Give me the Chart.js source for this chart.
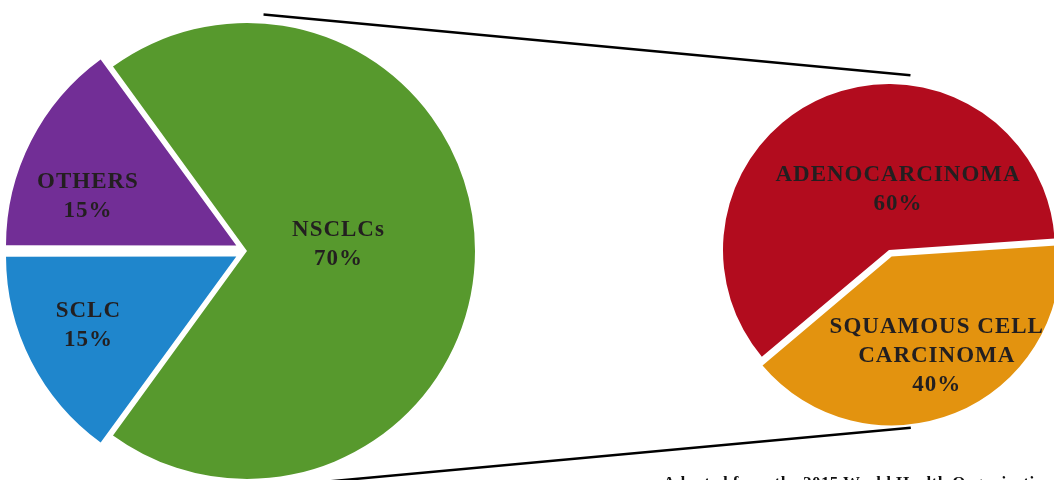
<!DOCTYPE html>
<html>
<head>
<meta charset="utf-8">
<script src="https://cdn.jsdelivr.net/npm/chart.js@4"></script>
<style>
  html, body { margin: 0; padding: 0; background: #fff; overflow: hidden; }
  #wrap { position: relative; width: 1054px; height: 480px; overflow: hidden; }
  #lines { position: absolute; left: 0; top: 0; }
  #typesChart { position: absolute; left: 0; top: 0; }
  #subtypesChart { position: absolute; left: 689px; top: 50px; }
  #source { position: absolute; left: 663px; top: 474px; font: bold 17px "Liberation Serif", serif; letter-spacing: 0.4px; line-height: 17px; white-space: nowrap; color: #111; }
</style>
</head>
<body>
<div id="wrap">
  <canvas id="lines" width="1054" height="480"></canvas>
  <canvas id="typesChart" width="494" height="502"></canvas>
  <canvas id="subtypesChart" width="400" height="400"></canvas>
  <div id="source">Adapted from the 2015 World Health Organization classification</div>
</div>
<script>
// lung cancer types
var typeLabels = ['NSCLCs', 'SCLC', 'OTHERS'];
var typeValues = [70, 15, 15];
var typeColors = ['#57992d', '#1f86cc', '#722e96'];

// NSCLC subtypes
var subtypeLabels = [['ADENOCARCINOMA'], ['SQUAMOUS CELL', 'CARCINOMA']];
var subtypeValues = [60, 40];
var subtypeColors = ['#b20c1e', '#e3930f'];

// writes name + percentage inside each slice
var sliceText = {
    id: 'sliceText',
    afterDatasetsDraw: function(chart, args, opts) {
        var ctx = chart.ctx;
        var meta = chart.getDatasetMeta(0);
        var values = chart.data.datasets[0].data;
        ctx.save();
        ctx.font = 'bold 23px "Liberation Serif", serif';
        ctx.letterSpacing = '1px';
        ctx.fillStyle = '#231f20';
        ctx.textAlign = 'center';
        ctx.textBaseline = 'middle';
        meta.data.forEach(function(arc, i) {
            var p = opts.place[i];
            var a = p[0] * Math.PI / 180;
            var r = arc.outerRadius * p[1];
            var x = arc.x + Math.cos(a) * r;
            var y = arc.y + Math.sin(a) * r;
            var lines = [].concat(chart.data.labels[i], values[i] + '%');
            var lh = 29;
            var y0 = y - (lines.length - 1) * lh / 2;
            lines.forEach(function(t, k) {
                ctx.fillText(t, x + 0.5, y0 + k * lh);
            });
        });
        ctx.restore();
    }
};

// note: chart.js draws arc offset / 4
var typesChart = new Chart(document.getElementById('typesChart'), {
    type: 'pie',
    data: {
        labels: typeLabels,
        datasets: [{
            data: typeValues,
            backgroundColor: typeColors,
            borderWidth: 0,
            offset: [0, 48, 48]
        }]
    },
    options: {
        responsive: false,
        animation: false,
        rotation: -36,
        radius: 228,
        layout: { padding: 0 },
        plugins: {
            legend: { display: false },
            tooltip: { enabled: false },
            sliceText: { place: [[-4, 0.40], [155, 0.77], [199, 0.74]] }
        }
    },
    plugins: [sliceText]
});

var subtypesChart = new Chart(document.getElementById('subtypesChart'), {
    type: 'pie',
    data: {
        labels: subtypeLabels,
        datasets: [{
            data: subtypeValues,
            backgroundColor: subtypeColors,
            borderWidth: 0,
            offset: [0, 28]
        }]
    },
    options: {
        responsive: false,
        animation: false,
        rotation: 230,
        radius: 166,
        layout: { padding: 0 },
        plugins: {
            legend: { display: false },
            tooltip: { enabled: false },
            sliceText: { place: [[-82, 0.37], [66, 0.70]] }
        }
    },
    plugins: [sliceText]
});

// connector lines from the NSCLC pie to the subtype pie
function pieCentre(chart) {
    var arc = chart.getDatasetMeta(0).data[0];
    return { x: chart.canvas.offsetLeft + arc.x, y: chart.canvas.offsetTop + arc.y, r: arc.outerRadius };
}
function onCircle(c, deg, extra) {
    var a = deg * Math.PI / 180;
    return [c.x + Math.cos(a) * (c.r + extra), c.y + Math.sin(a) * (c.r + extra)];
}
var a = pieCentre(typesChart);
var b = pieCentre(subtypesChart);
var lctx = document.getElementById('lines').getContext('2d');
lctx.strokeStyle = '#000';
lctx.lineWidth = 2.5;
[[onCircle(a, -86, 9), onCircle(b, -83, 10)], [onCircle(a, 70, 17), onCircle(b, 83, 13)]].forEach(function(seg) {
    lctx.beginPath();
    lctx.moveTo(seg[0][0], seg[0][1]);
    lctx.lineTo(seg[1][0], seg[1][1]);
    lctx.stroke();
});
</script>
</body>
</html>
